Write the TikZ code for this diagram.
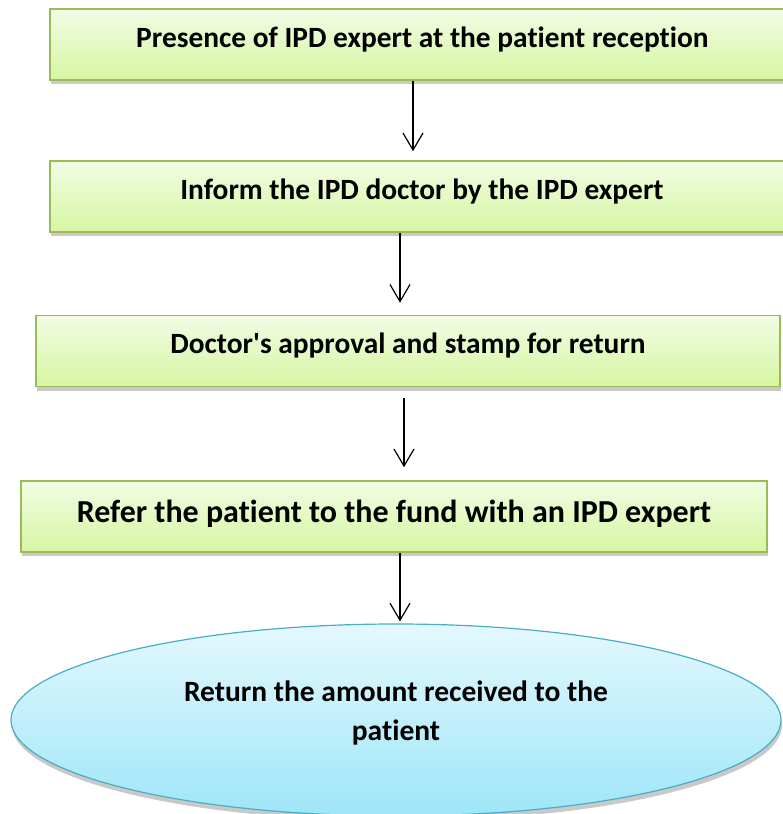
\documentclass[tikz,border=0pt]{standalone}
\usepackage{fontspec}
\setmainfont[Ligatures={NoCommon,TeXOff}]{Carlito}
\usetikzlibrary{arrows.meta,shapes.geometric,shadows,positioning}
\definecolor{gtop}{HTML}{F2FCE4}
\definecolor{gbot}{HTML}{D6F6A2}
\definecolor{gbord}{HTML}{9BBB59}
\definecolor{btop}{HTML}{E4F8FE}
\definecolor{bbot}{HTML}{9EE6F8}
\definecolor{bbord}{HTML}{4BACC6}
\tikzset{
  x=1pt,y=1pt,
  stepbox/.style={draw=gbord, line width=1.6pt, top color=gtop, bottom color=gbot,
    minimum height=71pt, inner sep=0pt, font=\bfseries\fontsize{29.4}{34}\selectfont,
    drop shadow={shadow xshift=1pt, shadow yshift=-4pt, opacity=0.3, fill=black!70}},
  endell/.style={ellipse, draw=bbord, line width=1.2pt, top color=btop, bottom color=bbot,
    minimum width=770pt, minimum height=192pt, inner sep=0pt, align=center,
    font=\bfseries\fontsize{29.5}{39}\selectfont,
    drop shadow={shadow xshift=1pt, shadow yshift=-5pt, opacity=0.3, fill=black!70}},
  flow/.style={line width=1.2pt, -{Straight Barb[length=17pt,width=20pt,line width=1.2pt]}}
}
\begin{document}
\begin{tikzpicture}
\useasboundingbox (0,0) rectangle (783,-814);
\node[stepbox, minimum width=740pt] (b1) at (420,-44.5) {\hspace*{5pt}\raisebox{15pt}{Presence of IPD expert at the patient reception}};
\node[stepbox, minimum width=740pt] (b2) at (420,-196.5) {\hspace*{4pt}\raisebox{14pt}{Inform the IPD doctor by the IPD expert}};
\node[stepbox, minimum width=744pt] (b3) at (408,-351) {\raisebox{16pt}{Doctor's approval and stamp for return}};
\node[stepbox, minimum width=746pt, font=\bfseries\fontsize{32}{38}\selectfont] (b4) at (394,-516.5) {\raisebox{10pt}{Refer the patient to the fund with an IPD expert}};
\node[endell] (e) at (396,-720) {Return the amount received to the\\patient\\[-21pt]};
\draw[flow, shorten >=9pt] ([xshift=-7pt]b1.south) -- ([xshift=-7pt]b2.north);
\draw[flow, shorten >=12pt] ([xshift=-20pt]b2.south) -- ([xshift=-8pt]b3.north);
\draw[flow, shorten <=11pt, shorten >=13pt] ([xshift=-4pt]b3.south) -- ([xshift=10pt]b4.north);
\draw[flow, shorten >=2pt] ([xshift=6pt]b4.south) -- ([xshift=4pt]e.north);
\end{tikzpicture}
\end{document}
